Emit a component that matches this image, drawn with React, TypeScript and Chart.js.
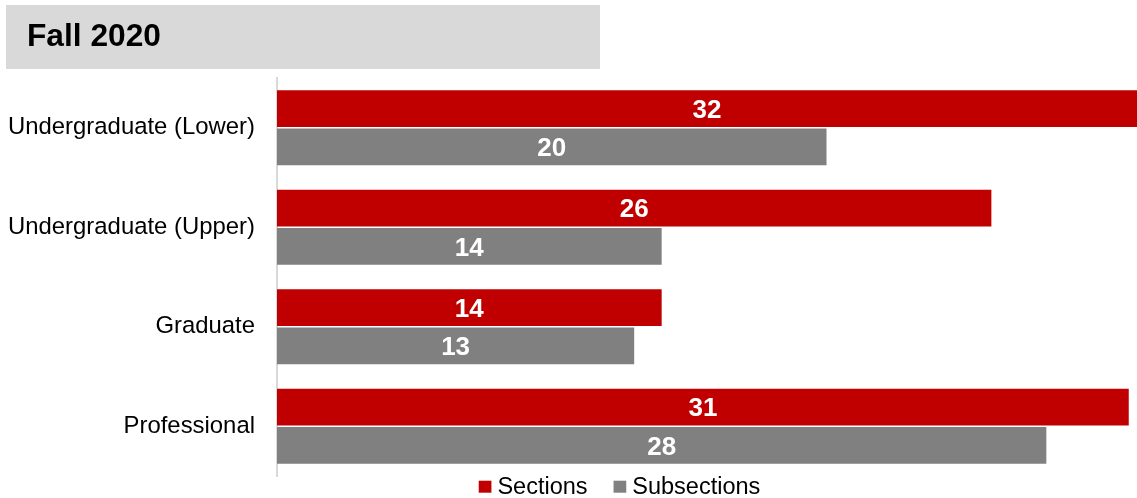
import React, { useEffect, useRef } from "react";
import { Chart, registerables } from "chart.js";

Chart.register(...registerables);

// ---- data ----
const chartTitle = "Fall 2020";
const categories = [
  "Undergraduate (Lower)",
  "Undergraduate (Upper)",
  "Graduate",
  "Professional",
];
const seriesNames = ["Sections", "Subsections"];
const sectionsValues = [32, 26, 14, 31];
const subsectionsValues = [20, 14, 13, 28];
const seriesColors = ["#C00000", "#808080"];
const xMin = 0;
const xMax = 31.3;

const FONT = "'Liberation Sans', Arial, Helvetica, sans-serif";

const titleBoxPlugin = {
  id: "titleBox",
  beforeDraw(chart: any) {
    const ctx = chart.ctx;
    ctx.save();
    ctx.fillStyle = "#D9D9D9";
    ctx.fillRect(6, 5, 594, 64);
    ctx.fillStyle = "#000000";
    ctx.font = `bold 31.7px ${FONT}`;
    ctx.textAlign = "left";
    ctx.textBaseline = "alphabetic";
    ctx.fillText(chartTitle, 27, 45.7);
    ctx.restore();
  },
};

const barLabelPlugin = {
  id: "barLabels",
  afterDatasetsDraw(chart: any) {
    const ctx = chart.ctx;
    const area = chart.chartArea;
    const size = 26;
    ctx.save();
    ctx.font = `bold ${size}px ${FONT}`;
    ctx.fillStyle = "#FFFFFF";
    ctx.textAlign = "center";
    ctx.textBaseline = "alphabetic";
    chart.data.datasets.forEach((ds: any, di: number) => {
      const meta = chart.getDatasetMeta(di);
      meta.data.forEach((el: any, i: number) => {
        const v = ds.data[i];
        const start = Math.max(Math.min(el.base, el.x), area.left);
        const end = Math.min(Math.max(el.base, el.x), area.right);
        const cx = (start + end) / 2;
        ctx.fillText(String(v), cx, el.y + size * 0.358);
      });
    });
    ctx.restore();
  },
};

const legendPlugin = {
  id: "customLegend",
  afterDraw(chart: any) {
    const ctx = chart.ctx;
    ctx.save();
    ctx.font = `23.5px ${FONT}`;
    ctx.textAlign = "left";
    ctx.textBaseline = "alphabetic";
    const box = 12.7;
    const gap = 6;
    const spacing = 26;
    const items = chart.data.datasets.map((ds: any) => ({
      text: ds.label,
      color: ds.backgroundColor,
      w: ctx.measureText(ds.label).width,
    }));
    const total =
      items.reduce((s: number, it: any) => s + box + gap + it.w, 0) +
      spacing * (items.length - 1);
    let x = 619.5 - total / 2;
    const baseline = 494.3;
    items.forEach((it: any) => {
      ctx.fillStyle = it.color;
      ctx.fillRect(x, 480.7, box, 12);
      ctx.fillStyle = "#000000";
      ctx.fillText(it.text, x + box + gap, baseline);
      x += box + gap + it.w + spacing;
    });
    ctx.restore();
  },
};

export default function App() {
  const canvasRef = useRef<HTMLCanvasElement | null>(null);

  useEffect(() => {
    if (!canvasRef.current) return;
    const chart = new Chart(canvasRef.current, {
      type: "bar",
      data: {
        labels: categories,
        datasets: [
          {
            label: seriesNames[0],
            data: sectionsValues,
            backgroundColor: seriesColors[0],
            borderWidth: 0,
            barPercentage: 0.957,
            categoryPercentage: 0.772,
          },
          {
            label: seriesNames[1],
            data: subsectionsValues,
            backgroundColor: seriesColors[1],
            borderWidth: 0,
            barPercentage: 0.957,
            categoryPercentage: 0.772,
          },
        ],
      },
      options: {
        indexAxis: "y",
        responsive: false,
        maintainAspectRatio: false,
        animation: false,
        events: [],
        layout: { padding: { top: 78, bottom: 22, left: 0, right: 0 } },
        plugins: {
          legend: { display: false },
          title: { display: false },
          tooltip: { enabled: false },
        },
        scales: {
          x: { display: false, min: xMin, max: xMax },
          y: {
            grid: { display: false, drawTicks: false },
            border: { display: true, color: "#D9D9D9", width: 2 },
            ticks: {
              color: "#000000",
              font: { family: FONT, size: 23.9 },
              padding: 22,
            },
            afterFit(scale: any) {
              scale.width = 277;
              scale.paddingTop = 0;
              scale.paddingBottom = 0;
            },
          },
        },
      } as any,
      plugins: [titleBoxPlugin, barLabelPlugin, legendPlugin],
    });
    return () => chart.destroy();
  }, []);

  return (
    <div style={{ position: "absolute", left: 0, top: 0, width: 1137, height: 498, background: "#FFFFFF" }}>
      <canvas ref={canvasRef} width={1137} height={498} style={{ display: "block" }} />
    </div>
  );
}
